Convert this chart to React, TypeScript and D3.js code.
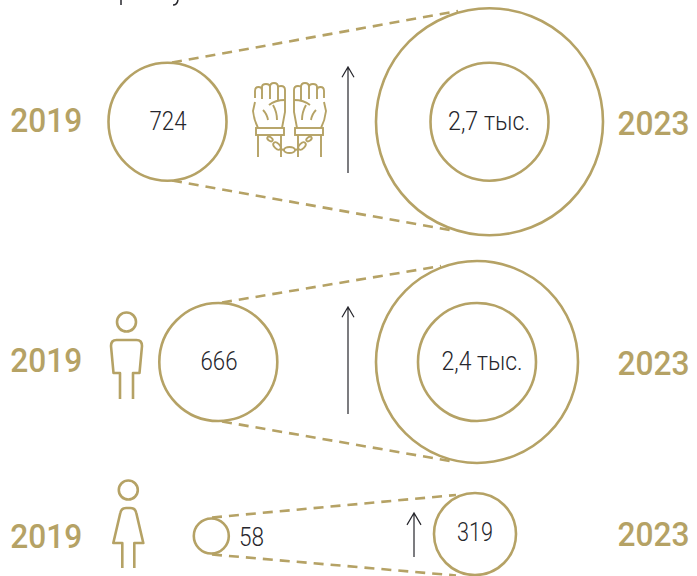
import React from "react";
import * as d3 from "d3";

const startYears = ["2019", "2019", "2019"];
const endYears = ["2023", "2023", "2023"];
const startValues = [724, 666, 58];
const endValues = [2700, 2400, 319];
const startLabels = ["724", "666", "58"];
const endLabels = ["2,7 тыс.", "2,4 тыс.", "319"];

const W = 697, H = 576;
const GOLD = "#b5a265", DARK = "#26262c";
const FONT = "Roboto";

// layout per row
const startCx = [167.5, 218.3, 211.3];
const startCy = [121.7, 362, 536];
const endCx = [489.5, 477, 475];
const endCy = [121.7, 362, 534];
const startR = [59, 59, 17.5];
const endR = [113.5, 101, 41];
const innerR = [59, 59, 0];
const arrowX = [348, 348, 414];
const arrowTop = [67, 307, 513];
const arrowBottom = [173, 414, 557];
const arrowHeadW = [6, 6, 7];
const dashStartTop = [[172, 62.5], [222, 302.5], [212, 517.5]];
const dashStartBottom = [[172, 180.5], [222, 421.5], [212, 554.5]];
const dashEndTop = [[458, 11], [441, 266], [456, 495]];
const dashEndBottom = [[455, 231], [450, 461], [456, 575.5]];
const startYearY = [131.7, 371.7, 548.3];
const endYearY = [135, 375, 546];
const startLabelX = [168, 219, 239];
const startLabelY = [129.5, 370, 546];
const startLabelW = [37, 37, 25];
const endLabelX = [489, 482, 475];
const endLabelY = [129.5, 370, 541];
const endLabelW = [82, 81, 36];

const rScale = (i: number) =>
  d3.scaleLinear().domain([startValues[i], endValues[i]]).range([startR[i], endR[i]]);

function Year({ x, y, t }: { x: number; y: number; t: string }) {
  return (
    <text x={x} y={y} fontFamily={FONT} fontWeight={500} fontSize={34} fill={GOLD}
      textLength={72} lengthAdjust="spacingAndGlyphs">{t}</text>
  );
}

function Arrow({ x, y0, y1, w }: { x: number; y0: number; y1: number; w: number }) {
  const p = d3.path();
  p.moveTo(x, y1); p.lineTo(x, y0);
  p.moveTo(x - w, y0 + w * 1.7); p.lineTo(x, y0); p.lineTo(x + w, y0 + w * 1.7);
  return <path d={p.toString()} fill="none" stroke={DARK} strokeWidth={1.2} />;
}

function Man({ x }: { x: number }) {
  return (
    <g transform={`translate(${x},0)`} fill="none" stroke={GOLD} strokeWidth={2.6} strokeLinejoin="round">
      <circle cx={0} cy={322} r={9.5} />
      <path d="M-6.5,399 V373 H-13 L-15.5,346 Q-15.5,340 -10,340 H10 Q15.5,340 15.5,346 L13,373 H6.5 V399" />
    </g>
  );
}

function Woman({ x }: { x: number }) {
  return (
    <g transform={`translate(${x},0)`} fill="none" stroke={GOLD} strokeWidth={2.6} strokeLinejoin="round">
      <circle cx={0} cy={490} r={9.5} />
      <path d="M-6,568 V543 H-15 L-8,513 Q-7,508 -2,508 H2 Q7,508 8,513 L15,543 H6 V568" />
    </g>
  );
}

function Fist({ mirror }: { mirror: boolean }) {
  return (
    <g transform={mirror ? "translate(579,0) scale(-1,1)" : ""}>
      <path d="M255,98 V91 Q255,87 258.5,87 Q262,87 262,90 V87 Q262,84 266,84 Q270,84 270,87 Q270,83 274,83 Q278,83 278,87 Q278,86 281,86 Q285,86 285,90 V112 L282,128" />
      <path d="M255,102 L253,111 Q254,120 258,128" />
      <path d="M262,90 V99 M270,87 V99 M278,87 V100 M285,100 Q275,100 269,105 M273,105 Q277,112 277,120 M263,110 Q267,114 268,120" />
      <rect x={256} y={128} width={28} height={7} />
      <path d="M258,135 V157 M281,135 V157" />
      <ellipse cx={270} cy={139} rx={3} ry={1.8} transform="rotate(35 270 139)" />
      <ellipse cx={277} cy={146} rx={4.5} ry={2.6} transform="rotate(45 277 146)" />
    </g>
  );
}

export default function App() {
  return (
    <svg width={W} height={H} viewBox={`0 0 ${W} ${H}`}
      style={{ position: "absolute", left: 0, top: 0, background: "#fff" }}>
      <path d="M121,0 V5" stroke={DARK} strokeWidth={1.5} />
      <path d="M173,5 Q177,5 178,0" stroke={DARK} strokeWidth={1.5} fill="none" />
      {startValues.map((v, i) => {
        const r0 = rScale(i)(v);
        const r1 = rScale(i)(endValues[i]);
        return (
          <g key={i}>
            <line x1={dashStartTop[i][0]} y1={dashStartTop[i][1]} x2={dashEndTop[i][0]} y2={dashEndTop[i][1]}
              stroke={GOLD} strokeWidth={2.6} strokeDasharray="10 7" />
            <line x1={dashStartBottom[i][0]} y1={dashStartBottom[i][1]} x2={dashEndBottom[i][0]} y2={dashEndBottom[i][1]}
              stroke={GOLD} strokeWidth={2.6} strokeDasharray="10 7" />
            <circle cx={startCx[i]} cy={startCy[i]} r={r0} fill="#fff" stroke={GOLD} strokeWidth={2.6} />
            <circle cx={endCx[i]} cy={endCy[i]} r={r1} fill="#fff" stroke={GOLD} strokeWidth={2.6} />
            {innerR[i] > 0 && <circle cx={endCx[i]} cy={endCy[i]} r={innerR[i]} fill="none" stroke={GOLD} strokeWidth={2.6} />}
            <Arrow x={arrowX[i]} y0={arrowTop[i]} y1={arrowBottom[i]} w={arrowHeadW[i]} />
            <Year x={10.3} y={startYearY[i]} t={startYears[i]} />
            <Year x={617.5} y={endYearY[i]} t={endYears[i]} />
            <text x={startLabelX[i]} y={startLabelY[i]} textAnchor={i === 2 ? "start" : "middle"}
              fontFamily={FONT} fontWeight={300} fontSize={25} fill={DARK} textLength={startLabelW[i]} lengthAdjust="spacingAndGlyphs">{startLabels[i]}</text>
            <text x={endLabelX[i]} y={endLabelY[i]} textAnchor="middle"
              fontFamily={FONT} fontWeight={300} fontSize={25} fill={DARK} textLength={endLabelW[i]} lengthAdjust="spacingAndGlyphs">{endLabels[i]}</text>
          </g>
        );
      })}
      <g fill="none" stroke={GOLD} strokeWidth={1.9}>
        <Fist mirror={false} />
        <Fist mirror={true} />
        <path d="M280,149 L284,150 M295,150 L299,149" />
        <ellipse cx={289.5} cy={150} rx={5.5} ry={3} />
      </g>
      <Man x={126.5} />
      <Woman x={128.3} />
    </svg>
  );
}
